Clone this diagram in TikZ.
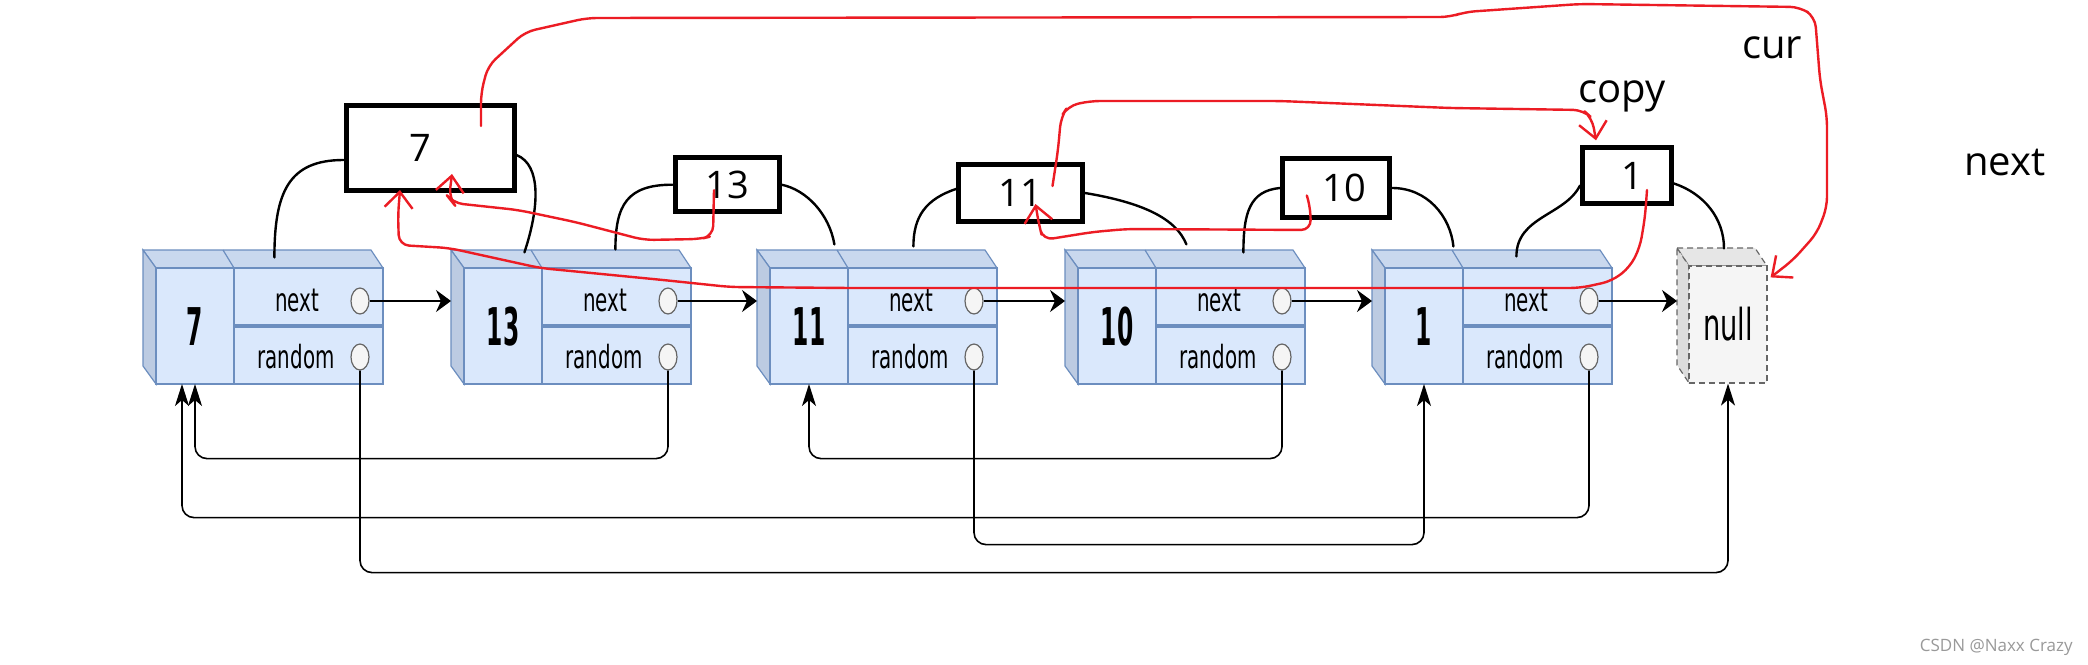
\documentclass[tikz,border=0pt]{standalone}
\usepackage{fontspec}
\setmainfont{Open Sans}
\newfontfamily\cellfont[FakeStretch=0.62]{DejaVu Sans}
\newfontfamily\valfont[FakeStretch=0.45]{DejaVu Sans}
\usetikzlibrary{arrows.meta, calc, positioning, shapes.geometric}
\definecolor{cellblue}{HTML}{DAE8FC}
\definecolor{cellline}{HTML}{6C8EBF}
\definecolor{celltop}{HTML}{C9D8EE}
\definecolor{cellside}{HTML}{BCCBE2}
\definecolor{portfill}{HTML}{F5F5F5}
\definecolor{portline}{HTML}{666666}
\definecolor{nulltop}{HTML}{E6E6E6}
\definecolor{nullside}{HTML}{DDDDDD}
\definecolor{penred}{HTML}{EC1C24}
\tikzset{face/.style={draw=cellline, fill=cellblue, line width=0.6pt, inner sep=0pt, minimum width=113.5pt, minimum height=58pt}}
\tikzset{topface/.style={draw=cellline, fill=celltop, line width=0.6pt}}
\tikzset{sideface/.style={draw=cellline, fill=cellside, line width=0.6pt}}
\tikzset{port/.style={ellipse, draw=portline, fill=portfill, line width=0.6pt, inner sep=0pt, minimum width=9pt, minimum height=13pt}}
\tikzset{field/.style={font=\cellfont\fontsize{16}{16}\selectfont}}
\tikzset{val/.style={font=\valfont\bfseries\fontsize{26}{26}\selectfont}}
\tikzset{nullpart/.style={draw=portline, line width=0.6pt, dash pattern=on 3pt off 2pt}}
\tikzset{ptr/.style={line width=0.75pt, -{Stealth[length=7.5pt, width=11pt, inset=2.5pt]}}}
\tikzset{rnd/.style={line width=0.8pt, rounded corners=6pt, -{Stealth[length=11pt, width=7pt, inset=3pt]}}}
\tikzset{copybox/.style={draw, line width=2.5pt, inner sep=0pt, font=\fontsize{19}{19}\selectfont}}
\tikzset{link/.style={line width=1.2pt, line cap=round}}
\tikzset{pen/.style={draw=penred, line width=1.2pt, line cap=round, line join=round, rounded corners=5pt, -{Straight Barb[length=8pt, width=14pt]}}}
\tikzset{note/.style={font=\fontsize{20}{20}\selectfont}}

\begin{document}
\begin{tikzpicture}[x=0.5pt, y=-0.5pt]
    \path[use as bounding box, fill=white] (0,0) rectangle (2088,664);

    % original list
    \foreach \key/\L [count=\i] in {7/143, 13/451, 11/757, 10/1065, 1/1372}{
        \filldraw[topface] (\L,250) -- (\L+228,250) -- (\L+240,268) -- (\L+13,268) -- cycle;
        \draw[cellline, line width=0.6pt] (\L+80,250) -- (\L+91,268);
        \filldraw[sideface] (\L,250) -- (\L+13,268) -- (\L+13,384) -- (\L,366) -- cycle;
        \node[face] (n\i) at (\L+126.5,326) {};
        \draw[cellline, line width=0.6pt] (\L+91,268) -- (\L+91,384);
        \draw[cellline, line width=2pt] (\L+91,326) -- (\L+240,326);
        \node[val] (v\i) at (\L+52,327) {\key};
        \node[field] (nt\i) at (\L+154,300) {next};
        \node[field] (rt\i) at (\L+153,357) {random};
        \node[port] (nx\i) at (\L+217,301) {};
        \node[port] (rd\i) at (\L+217,357) {};
        \coordinate (in\i) at (\L,301);
        \coordinate (b\i) at (\L+52,384);
    }

    % null
    \filldraw[nullpart, fill=nulltop] (1677,248) -- (1755,248) -- (1767,266) -- (1689,266) -- cycle;
    \filldraw[nullpart, fill=nullside] (1677,248) -- (1689,266) -- (1689,383) -- (1677,365) -- cycle;
    \node[nullpart, fill=portfill, inner sep=0pt, minimum width=39pt, minimum height=58.5pt,
          font=\cellfont\fontsize{22}{22}\selectfont] (nl) at (1728,324.5) {\raisebox{-4pt}{null}};
    \coordinate (nullin) at (1677,301);

    % next pointers
    \foreach \j/\k in {1/2, 2/3, 3/4, 4/5}
        \draw[ptr] (nx\j) -- (in\k);
    \draw[ptr] (nx5) -- (nullin);

    % random pointers
    \draw[rnd] (rd2.south) -- ++(0,88) -| (b1);
    \draw[rnd] (rd5.south) -- ++(0,147) -| ($(b1)+(-13,0)$);
    \draw[rnd] (rd4.south) -- ++(0,88) -| (b3);
    \draw[rnd] (rd3.south) -- ++(0,174) -| (b5);
    \draw[rnd] (rd1.south) -- ++(0,202) -| (nl.south);

    % copies
    \node[copybox, minimum width=84pt, minimum height=42.5pt] (c1) at (430,148) {\hspace*{-10pt}7};
    \node[copybox, minimum width=52pt, minimum height=27pt] (c2) at (727,184.7) {13};
    \node[copybox, minimum width=62pt, minimum height=28.8pt] (c3) at (1020.5,193) {11};
    \node[copybox, minimum width=53.7pt, minimum height=29.5pt] (c4) at (1336,188) {\hspace*{8pt}\raisebox{-2pt}{10}};
    \node[copybox, minimum width=44.5pt, minimum height=27.7pt] (c5) at (1627,175.5) {\hspace*{5pt}\raisebox{-2pt}{1}};

    \draw[link] ([yshift=-6pt]c1.west) .. controls +(-55,0) and +(0,-65) .. ($(n1.north west)+(119,-10)$);
    \draw[link] ([yshift=-3.5pt]c1.east) .. controls +(25,10) and +(15,-45) .. ($(n2.north west)+(61,-15)$);
    \draw[link] (c2.west) .. controls +(-45,0) and +(0,-45) .. ($(n2.north west)+(152,-18)$);
    \draw[link] (c2.east) .. controls +(25,5) and +(-5,-30) .. ($(n3.north west)+(65,-23)$);
    \draw[link] ([yshift=2pt]c3.west) .. controls +(-30,10) and +(0,-30) .. ($(n3.north west)+(144,-21)$);
    \draw[link] (c3.east) .. controls +(60,10) and +(-10,-25) .. ($(n4.north west)+(109,-23)$);
    \draw[link] (c4.west) .. controls +(-30,3) and +(0,-40) .. ($(n4.north west)+(166,-15)$);
    \draw[link] (c4.east) .. controls +(35,0) and +(-3,-30) .. ($(n5.north west)+(69,-21)$);
    \draw[link] ([yshift=-5pt]c5.west) .. controls +(-15,30) and +(0,-40) .. ($(n5.north west)+(132,-11)$);
    \draw[link] ([yshift=-4pt]c5.east) .. controls +(30,10) and +(0,-30) .. ($(nl.north)+(-4,-17)$);

    % hand drawn
    \draw[pen] ($(c1)+(51,-22)$) -- (481,93) -- (488,66) -- (525,32) -- (587,18) -- (1450,17) -- (1465,12)
        -- (1580,4) -- (1800,7) -- (1815,17) -- (1820,80) -- (1827,117) -- (1827,207) -- (1817,233)
        -- (1793,260) -- ($(nl.north east)+(3,12)$);
    \draw[pen] ($(c3)+(32,-7)$) -- (1058,150) -- (1061,117) -- (1068,106) -- (1090,101) -- (1280,101)
        -- (1450,108) -- (1583,110) -- (1592,118) -- ($(c5.north west)+(16,-5)$);
    \draw[pen] ($(c5)+(20,14.5)$) -- (1645,217) -- (1640,247) -- (1630,267) -- (1612,281) -- (1580,288)
        -- (850,288) -- (730,287) -- (663,280) -- (540,268) -- (449,248) -- (399,245) -- (398,215)
        -- ($(c1.south)+(-30,-3)$);
    \draw[pen] ($(c2)+(-13,5.5)$) -- (713,236) -- (700,239) -- (644,240) -- (575,222) -- (518,210)
        -- (453,203) -- (449,198) -- ($(c1)+(22,26)$);
    \draw[pen] ($(c4)+(-29,8)$) -- (1310,205) -- (1311,230) -- (1127,229) -- (1093,232) -- (1043,240)
        -- (1039,225) -- ($(c3)+(15,11)$);

    \node[note] (cur) at (1772,48) {cur};
    \node[note] (copy) at (1622,96) {copy};
    \node[note] (nextnote) at (2005,163) {next};
    \node[anchor=east, inner sep=0pt, font=\fontsize{8.5}{8.5}\selectfont, text=black!40] (csdn) at (2073,647) {CSDN @Naxx Crazy};
\end{tikzpicture}
\end{document}
